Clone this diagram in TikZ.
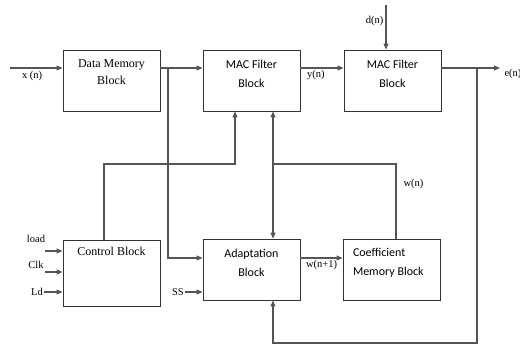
\documentclass[tikz,border=0pt]{standalone}
\usepackage{fontspec}
\setmainfont{Liberation Serif}
\newfontfamily\calfont{Carlito}
\usepackage{xcolor}
\definecolor{lmsln}{HTML}{555555}
\definecolor{lmsbx}{HTML}{333333}
\usepackage{tikz}
\usetikzlibrary{arrows.meta,positioning}
\newcommand{\serblk}[1]{\parbox[c][57pt][t]{95pt}{\centering\fontsize{12}{17}\selectfont\vspace*{8pt}#1}}
\newcommand{\sanblk}[1]{\parbox[c][57pt][t]{95pt}{\centering\calfont\fontsize{12}{19}\selectfont\vspace*{8pt}#1}}

\begin{document}
\begin{tikzpicture}[x=1pt,y=-1pt,
  blk/.style={draw=lmsbx,line width=0.9pt,minimum width=97pt,minimum height=61pt,inner sep=0pt},
  ln/.style={draw=lmsln,line width=1.1pt},
  arr/.style={ln,-{Triangle[length=6pt,width=5pt]}},
  lbl/.style={font=\fontsize{10.5}{12}\selectfont,inner sep=1pt}]
\useasboundingbox (0,0) rectangle (520,345);
% blocks
\node[blk] (dmb) at (111.5,80.5) {\serblk{Data Memory\\Block}};
\node[blk] (mac1) at (251.5,80.5) {\sanblk{MAC Filter\\Block}};
\node[blk] (mac2) at (392.5,80.5) {\sanblk{MAC Filter\\Block}};
\node[blk,minimum height=66pt] (ctl) at (111.5,273) {\parbox[c][62pt][t]{95pt}{\centering\fontsize{12}{17}\selectfont\vspace*{5pt}Control Block}};
\node[blk] (adp) at (251.5,269.5) {\sanblk{Adaptation\\Block}};
\node[blk] (cmb) at (391.5,269.5) {\parbox[c][57pt][t]{95pt}{\leftskip=9pt\calfont\fontsize{12}{19}\selectfont\vspace*{7pt}Coefficient\\Memory Block}};
% free ends
\coordinate (xin) at (10,68);
\coordinate (dtop) at (386,5);
\coordinate (eout) at (500,68);
\coordinate (dbr) at (168,68);
\coordinate (ebr) at (477,68);
\coordinate (ebot) at (477,343);
\coordinate (wtop) at (396,164);
\coordinate (ctop) at (104,164);
% top row
\draw[arr] (xin) -- (xin -| dmb.west) node[lbl,pos=0.42,below=2pt] {x (n)};
\draw[arr] (dmb.east |- xin) -- (mac1.west |- xin);
\draw[arr] (mac1.east |- xin) -- (mac2.west |- xin) node[lbl,pos=0.36,below=1pt] {y(n)};
\draw[arr] (dtop) -- (dtop |- mac2.north) node[lbl,pos=0.35,left=1pt] {d(n)};
\draw[arr] (mac2.east |- xin) -- (eout) node[lbl,right=3pt,yshift=-6pt] {e(n)};
% feedback paths
\draw[arr] (dbr) |- (adp.west |- 0,258);
\draw[arr] (ebr) -- (ebot) -| (273,0 |- adp.south);
\draw[ln,{Triangle[length=6pt,width=5pt]}-{Triangle[length=6pt,width=5pt]}] (273,0 |- mac1.south) -- (273,0 |- adp.north);
\draw[ln] (273,0 |- wtop) -- (wtop) -- (wtop |- cmb.north) node[lbl,pos=0.27,right=6pt] {w(n)};
\draw[arr] (ctl.north -| ctop) -- (ctop) -| (235,0 |- mac1.south);
\draw[arr] (adp.east |- 0,258) -- (cmb.west |- 0,258) node[lbl,midway,below=1pt] {w(n+1)};
% control inputs
\coordinate (ldi) at (45,251);
\coordinate (cki) at (45,272);
\coordinate (ldd) at (44,292);
\coordinate (ssi) at (185,292);
\draw[arr] (ldi) -- (ldi -| ctl.west);
\node[lbl] (ldl) at (36,239) {load};
\draw[arr] (cki) -- (cki -| ctl.west);
\node[lbl] (ckl) at (36,265) {Clk};
\draw[arr] (ldd) -- (ldd -| ctl.west);
\node[lbl,left=0pt of ldd] (ldn) {Ld};
\draw[arr] (ssi) -- (ssi -| adp.west);
\node[lbl,left=0pt of ssi] (ssl) {SS};
\end{tikzpicture}
\end{document}
